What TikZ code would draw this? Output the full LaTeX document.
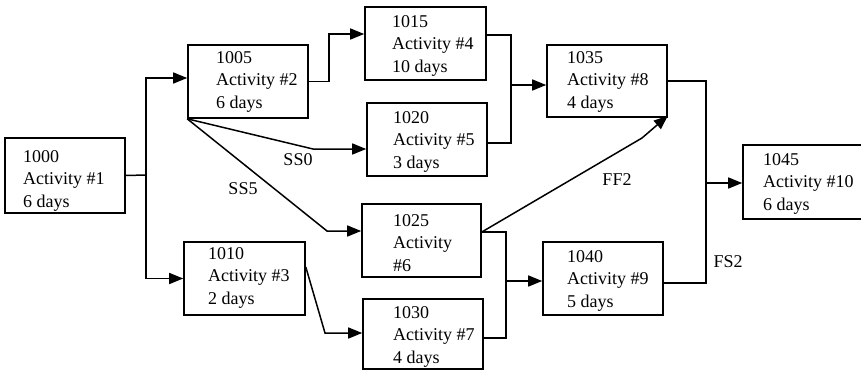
\documentclass[tikz,border=0pt]{standalone}
\usepackage{fontspec}
\setmainfont{Liberation Serif}
\usetikzlibrary{arrows.meta}
\begin{document}
\begin{tikzpicture}[x=1pt,y=-1pt,
  actbox/.style={draw, line width=1.6pt, inner sep=0pt},
  acttxt/.style={anchor=north west, inner sep=0pt, align=left, font=\fontsize{18}{22.5}\selectfont},
  lbl/.style={inner sep=0pt, font=\fontsize{18}{22.5}\selectfont},
  link/.style={line width=1.5pt},
  arr/.style={line width=1.5pt, -{Triangle[length=14pt,width=11pt]}}]
\useasboundingbox (0,0) rectangle (861,370);
\fill[white] (0,0) rectangle (861,370);
% boxes: (left,top) rectangle (right,bottom)
\newcommand{\actnode}[5]{% name, left, top, right, bottom
  \node[actbox, minimum width=#4-#2, minimum height=#5-#3] (#1) at ({(#2+#4)/2},{(#3+#5)/2}) {};}
\actnode{n1000}{5}{138}{125}{213}
\actnode{n1005}{188}{45}{308}{118}
\actnode{n1010}{184}{242}{305}{315}
\actnode{n1015}{365}{7}{486}{80}
\actnode{n1020}{367}{103}{487}{176}
\actnode{n1025}{362}{204}{481}{277}
\actnode{n1030}{363}{299}{483}{369}
\actnode{n1035}{547}{45}{667}{117}
\actnode{n1040}{543}{242}{663}{315}
\actnode{n1045}{743}{145}{876}{219}
% texts
\node[acttxt] (t1000) at (23,150) {1000\\Activity \#1\\6 days};
\node[acttxt] (t1005) at (216,51) {1005\\Activity \#2\\6 days};
\node[acttxt] (t1010) at (208,247) {1010\\Activity \#3\\2 days};
\node[acttxt] (t1015) at (392,15) {1015\\Activity \#4\\10 days};
\node[acttxt] (t1020) at (393,111) {1020\\Activity \#5\\3 days};
\node[acttxt] (t1025) at (393,214) {1025\\Activity\\\#6};
\node[acttxt] (t1030) at (393,306) {1030\\Activity \#7\\4 days};
\node[acttxt] (t1035) at (567,51) {1035\\Activity \#8\\4 days};
\node[acttxt] (t1040) at (567,250) {1040\\Activity \#9\\5 days};
\node[acttxt] (t1045) at (763,153) {1045\\Activity \#10\\6 days};
% junction coordinates
\coordinate (j1) at (146,175);
\coordinate (m1) at (511,85);
\coordinate (m2) at (506,281);
\coordinate (m3) at (706,183);
\coordinate (k0) at (313,149);
\coordinate (k5) at (327,231);
\coordinate (k3) at (325,333);
\coordinate (kf) at (642,138);
% connectors
\draw[link] (n1000.east) -- (j1);
\draw[arr] (j1) |- ([yshift=3.5pt]n1005.west);
\draw[arr] (j1) |- (n1010.west);
\draw[arr] (n1005.east) -- ++(20,0) |- ([yshift=9.5pt]n1015.west);
\draw[arr] (n1005.south west) -- (k0) -- ([yshift=-9.5pt]n1020.west);
\draw[arr] (n1005.south west) -- (k5) -- ([yshift=9.5pt]n1025.west);
\draw[arr] ([yshift=11.5pt]n1010.east) -- (k3) -- (n1030.west |- k3);
\draw[link] ([yshift=8.5pt]n1015.east) -| (m1);
\draw[link] ([yshift=-3.5pt]n1020.east) -| (m1);
\draw[arr] (m1) -- (n1035.west |- m1);
\draw[link] ([yshift=8.5pt]n1025.east) -| (m2);
\draw[link] ([yshift=-4pt]n1030.east) -| (m2);
\draw[arr] (m2) -- (n1040.west |- m2);
\draw[arr] ([yshift=8.5pt]n1025.east) -- (kf) -- ([yshift=2pt]n1035.south east);
\draw[link] (n1035.east) -| (m3);
\draw[link] ([yshift=-4.5pt]n1040.east) -| (m3);
\draw[arr] (m3) -- (n1045.west |- m3);
% labels
\node[lbl] (lss0) at (298,160) {SS0};
\node[lbl] (lss5) at (243,189) {SS5};
\node[lbl] (lff2) at (617,180) {FF2};
\node[lbl] (lfs2) at (728,262) {FS2};
\end{tikzpicture}
\end{document}
